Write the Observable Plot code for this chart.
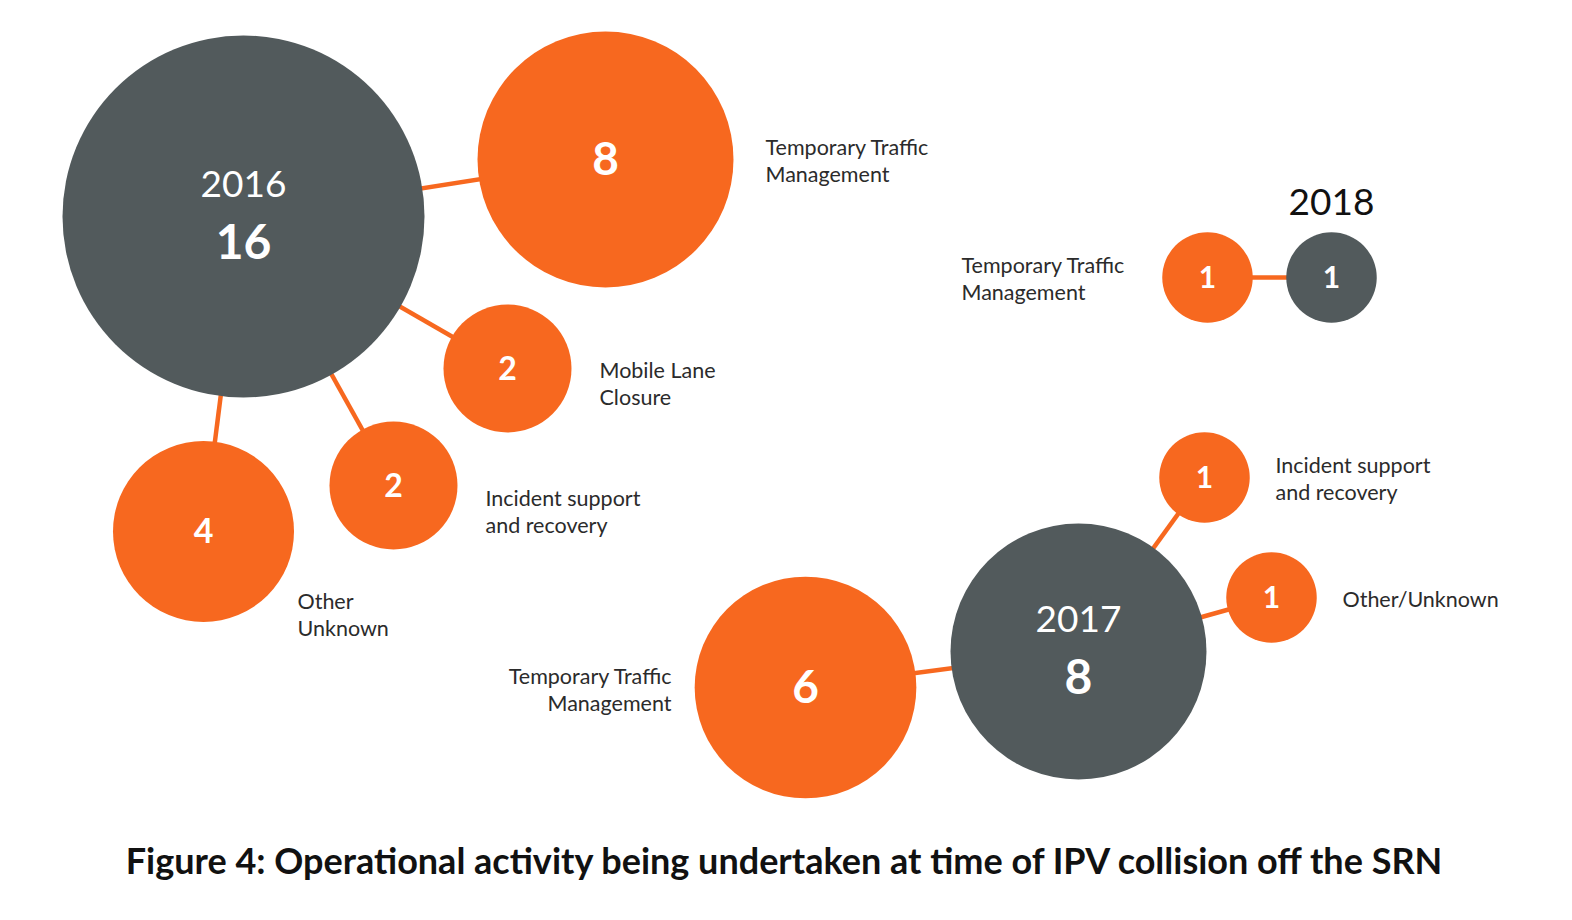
<!DOCTYPE html>
<html>
<head>
<meta charset="utf-8">
<script src="https://cdn.jsdelivr.net/npm/d3@7"></script>
<script src="https://cdn.jsdelivr.net/npm/@observablehq/plot@0.6"></script>
<style>
  html, body { margin: 0; padding: 0; background: #fff; overflow: hidden; }
  #chart svg { display: block; }
  #caption {
    font-family: Lato, "Noto Sans", sans-serif;
    font-weight: 700;
    font-size: 36px;
    color: #111;
    text-align: center;
    margin-top: 18px;
    width: 1568px;
    white-space: nowrap;
  }
</style>
</head>
<body>
<div id="chart"></div>
<div id="caption">Figure 4: Operational activity being undertaken at time of IPV collision off the SRN</div>
<script>
// ---- Data ----
const years = ["2016", "2017", "2018"];
const yearTotals = [16, 8, 1];

const activityYear   = ["2016", "2016", "2016", "2016", "2017", "2017", "2017", "2018"];
const activityLabels = [
  "Temporary Traffic\nManagement",
  "Mobile Lane\nClosure",
  "Incident support\nand recovery",
  "Other\nUnknown",
  "Temporary Traffic\nManagement",
  "Incident support\nand recovery",
  "Other/Unknown",
  "Temporary Traffic\nManagement"
];
const activityCounts = [8, 2, 2, 4, 6, 1, 1, 1];

// ---- Layout (diagram positions in layout units) ----
const hubLayout = [
  {x: 243, y: 216},   // 2016
  {x: 1078, y: 651},  // 2017
  {x: 1331, y: 277}   // 2018
];
const nodeLayout = [
  {x: 605, y: 159, lx: 765, ly: 159.5, anchor: "start"},
  {x: 507, y: 368, lx: 599, ly: 382, anchor: "start"},
  {x: 393, y: 485, lx: 485, ly: 510.5, anchor: "start"},
  {x: 203, y: 531, lx: 297, ly: 613.5, anchor: "start"},
  {x: 805, y: 687, lx: 671, ly: 688.5, anchor: "end"},
  {x: 1204, y: 477, lx: 1275, ly: 477.5, anchor: "start"},
  {x: 1271, y: 597, lx: 1342, ly: 598, anchor: "start"},
  {x: 1207, y: 277, lx: 961, ly: 277.5, anchor: "start"}
];

const ORANGE = "#f7681f";
const GREY = "#525a5c";

const hubs = years.map((y, i) => ({year: y, total: yearTotals[i], ...hubLayout[i]}));
const hubByYear = Object.fromEntries(hubs.map(h => [h.year, h]));
const nodes = activityCounts.map((c, i) => ({
  year: activityYear[i], label: activityLabels[i], count: c, ...nodeLayout[i],
  hx: hubByYear[activityYear[i]].x, hy: hubByYear[activityYear[i]].y
}));

const W = 1572, H = 820;
const font = "Lato, 'Noto Sans', sans-serif";

const bigHubs = hubs.filter(h => h.total > 1);
const smallHubs = hubs.filter(h => h.total === 1);
const labelStyle = {fill: "#2b2b2b", fontSize: 21.5, lineHeight: 1.26};

const chart = Plot.plot({
  width: W,
  height: H,
  margin: 0,
  x: {domain: [0, W], range: [0, W], axis: null},
  y: {domain: [0, H], range: [0, H], axis: null},
  r: {type: "sqrt", domain: [0, 16], range: [0, 181]},
  style: {fontFamily: font, background: "#fff"},
  marks: [
    Plot.link(nodes, {x1: "hx", y1: "hy", x2: "x", y2: "y", stroke: ORANGE, strokeWidth: 4.5}),
    Plot.dot(hubs, {x: "x", y: "y", r: "total", fill: GREY, stroke: null}),
    Plot.dot(nodes, {x: "x", y: "y", r: "count", fill: ORANGE, stroke: null}),
    // node counts
    Plot.text(nodes, {x: "x", y: "y", text: d => String(d.count), fill: "#fff", fontWeight: 700,
      fontSize: d => d.count >= 6 ? 46 : d.count >= 4 ? 34 : d.count >= 2 ? 32 : 30, dy: 1}),
    // node labels
    Plot.text(nodes.filter(d => d.anchor === "start"), {x: "lx", y: "ly", text: "label", textAnchor: "start", ...labelStyle}),
    Plot.text(nodes.filter(d => d.anchor === "end"), {x: "lx", y: "ly", text: "label", textAnchor: "end", ...labelStyle}),
    // big hub year + total
    Plot.text(bigHubs, {x: "x", y: "y", text: "year", fill: "#fff", fontSize: 37, dy: -31}),
    Plot.text(bigHubs, {x: "x", y: "y", text: d => String(d.total), fill: "#fff", fontSize: 48, fontWeight: 700, dy: 27}),
    // small hub (2018)
    Plot.text(smallHubs, {x: "x", y: "y", text: d => String(d.total), fill: "#fff", fontSize: 30, fontWeight: 700, dy: 1}),
    Plot.text(smallHubs, {x: "x", y: "y", text: "year", fill: "#111", fontSize: 37, dy: -74})
  ]
});
document.getElementById("chart").appendChild(chart);
</script>
</body>
</html>
